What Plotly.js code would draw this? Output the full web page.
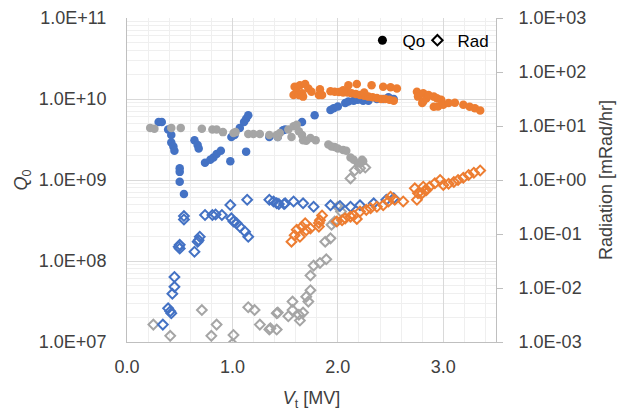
<!DOCTYPE html>
<html>
<head>
<meta charset="utf-8">
<script src="https://cdn.plot.ly/plotly-3.0.1.min.js"></script>
<style>html,body{margin:0;padding:0;background:#fff;}#chart{width:627px;height:411px;}</style>
</head>
<body>
<div id="chart"></div>
<script>
// ---- Data ----
// Q0 series (left axis), filled circles
const blueQx = [0.30,0.33,0.39,0.42,0.42,0.44,0.45,0.50,0.50,0.50,0.54,0.64,0.67,0.68,0.74,0.79,0.82,0.85,0.89,0.98,0.99,1.02,1.07,1.11,1.13,1.15,1.13,1.35,1.43,1.48,1.50,1.66,1.78,1.93,1.96,2.00,2.07,2.10,2.15,2.19,2.24,2.29,2.37,2.43,2.48,2.53];
const blueQy = [5.2e9,5.2e9,4.2e9,3.6e9,2.9e9,2.6e9,2.3e9,1.4e9,1.26e9,9.5e8,6.7e8,3.1e9,2.7e9,2.45e9,1.63e9,1.78e9,1.9e9,2.1e9,2.3e9,1.7e9,3.4e9,3.6e9,4.4e9,5.2e9,5.7e9,6.3e9,2.24e9,3.4e9,3.4e9,4.1e9,4.2e9,5.2e9,6.3e9,7.3e9,7.7e9,8.1e9,8.9e9,9.3e9,9.5e9,9.8e9,9.5e9,9.5e9,1.0e10,1.0e10,1.05e10,1.0e10];

const grayQx = [0.22,0.26,0.42,0.51,0.71,0.81,0.85,0.91,1.01,1.03,1.15,1.20,1.26,1.35,1.43,1.42,1.45,1.53,1.58,1.61,1.56,1.63,1.66,1.67,1.70,1.74,1.79,1.91,1.94,1.97,2.00,2.05,2.08,2.12,2.15,2.19,2.24,2.23];
const grayQy = [4.4e9,4.3e9,4.4e9,4.4e9,4.3e9,4.2e9,4.2e9,3.9e9,3.8e9,3.9e9,3.7e9,3.7e9,3.7e9,3.6e9,3.4e9,3.6e9,3.8e9,4.2e9,4.6e9,4.8e9,3.4e9,4.0e9,3.6e9,3.1e9,3.05e9,3.3e9,3.1e9,2.75e9,2.6e9,2.55e9,2.45e9,2.35e9,2.3e9,1.9e9,1.78e9,1.6e9,1.7e9,1.78e9];

const orangeQx = [1.58,1.59,1.61,1.63,1.64,1.66,1.67,1.69,1.72,1.75,1.82,1.83,1.85,
  1.93,1.97,2.01,2.05,2.09,2.13,2.17,2.21,2.25,2.29,2.33,2.37,2.41,2.45,2.49,2.53,
  2.10,2.18,2.32,2.43,2.50,2.56,2.05,2.25,
  2.75,2.76,2.80,2.81,2.81,2.84,2.86,2.91,2.94,2.91,2.95,2.98,3.00,3.05,3.11,3.19,3.25,3.30,3.35];
const orangeQy = [1.12e10,1.42e10,1.23e10,1.12e10,1.48e10,1.18e10,1.07e10,1.53e10,1.35e10,1.23e10,1.12e10,1.32e10,1.12e10,
  1.25e10,1.23e10,1.22e10,1.20e10,1.20e10,1.18e10,1.15e10,1.12e10,1.10e10,1.07e10,1.05e10,1.03e10,1.0e10,1.0e10,9.8e9,9.5e9,
  1.48e10,1.53e10,1.48e10,1.42e10,1.40e10,1.35e10,1.28e10,1.20e10,
  1.23e10,1.07e10,8.9e9,1.18e10,9.3e9,1.02e10,1.12e10,1.07e10,1.02e10,8.0e9,8.1e9,9.8e9,8.5e9,8.9e9,9.0e9,8.5e9,8.0e9,7.7e9,7.2e9];

// Radiation series (right axis), open diamonds
const blueRx = [0.34,0.39,0.41,0.42,0.43,0.45,0.45,0.49,0.50,0.50,0.54,0.54,0.64,0.67,0.68,0.69,0.74,0.81,0.84,0.90,0.98,0.99,1.01,1.04,1.07,1.12,1.15,1.14,1.35,1.39,1.42,1.44,1.49,1.50,1.58,1.67,1.77,1.93,2.02,2.12,2.21,2.34,2.46,2.53];
const blueRy = [0.0021,0.0042,0.0037,0.0034,0.0078,0.0105,0.016,0.058,0.063,0.054,0.215,0.186,0.047,0.072,0.077,0.089,0.225,0.225,0.23,0.225,0.344,0.195,0.17,0.158,0.136,0.11,0.089,0.43,0.43,0.40,0.37,0.36,0.36,0.37,0.40,0.37,0.32,0.34,0.33,0.32,0.34,0.37,0.43,0.46];

const grayRx = [0.25,0.41,0.71,0.80,0.85,1.00,1.01,1.15,1.21,1.26,1.35,1.36,1.42,1.42,1.43,1.53,1.57,1.57,1.63,1.64,1.67,1.72,1.70,1.74,1.74,1.77,1.83,1.89,1.88,1.93,1.94,1.97,2.00,2.03,2.12,2.16,2.21,2.26];
const grayRy = [0.0021,0.0013,0.0039,0.0013,0.0021,0.00093,0.00135,0.0044,0.0039,0.0021,0.0017,0.0018,0.0017,0.0034,0.0035,0.0030,0.0039,0.0056,0.0032,0.0025,0.0035,0.0056,0.0069,0.0091,0.017,0.026,0.029,0.034,0.072,0.083,0.148,0.17,0.32,0.26,1.07,1.5,1.65,1.7];

const orangeRx = [1.56,1.59,1.64,1.61,1.66,1.69,1.70,1.74,1.82,1.83,1.85,1.82,1.99,2.04,2.07,2.12,2.15,2.18,2.21,2.27,2.31,2.37,2.43,2.48,2.50,2.54,2.62,2.73,2.76,2.75,2.80,2.81,2.83,2.84,2.87,2.92,2.97,3.00,3.05,3.10,3.14,3.19,3.24,3.29,3.35];
const orangeRy = [0.072,0.095,0.089,0.12,0.136,0.158,0.117,0.127,0.137,0.18,0.22,0.16,0.17,0.18,0.195,0.21,0.22,0.19,0.26,0.28,0.30,0.32,0.34,0.40,0.49,0.43,0.40,0.70,0.57,0.43,0.57,0.75,0.65,0.65,0.75,0.87,1.0,0.81,0.85,0.92,1.0,1.1,1.24,1.36,1.5];

// Axis tick labels
const xTickVals = [0, 1, 2, 3];
const xTickLabels = ['0.0', '1.0', '2.0', '3.0'];
const qTickVals = [1e7, 1e8, 1e9, 1e10, 1e11];
const qTickLabels = ['1.0E+07', '1.0E+08', '1.0E+09', '1.0E+10', '1.0E+11'];
const rTickVals = [1e-3, 1e-2, 1e-1, 1e0, 1e1, 1e2, 1e3];
const rTickLabels = ['1.0E-03', '1.0E-02', '1.0E-01', '1.0E+00', '1.0E+01', '1.0E+02', '1.0E+03'];
const legendNames = ['Qo', 'Rad'];

// ---- Styles ----
const BLUE = '#4472C4', ORANGE = '#ED7D31', GRAY = '#A5A5A5';
const FONT = 'Liberation Sans, Arial, sans-serif';
const TXT = '#404040';

const minorQ = [];
for (let e = 7; e < 11; e++) for (let d = 2; d <= 9; d++) minorQ.push(d * Math.pow(10, e));

function circles(x, y, c) {
  return {x: x, y: y, type: 'scatter', mode: 'markers', yaxis: 'y', showlegend: false, hoverinfo: 'skip',
    marker: {symbol: 'circle', size: 8.5, color: c, line: {width: 0}}};
}
function diamonds(x, y, c) {
  return {x: x, y: y, type: 'scatter', mode: 'markers', yaxis: 'y2', showlegend: false, hoverinfo: 'skip',
    marker: {symbol: 'diamond-open', size: 7.5, color: c, line: {width: 2, color: c}}};
}

const traces = [
  circles(blueQx, blueQy, BLUE),
  circles(orangeQx, orangeQy, ORANGE),
  circles(grayQx, grayQy, GRAY),
  diamonds(grayRx, grayRy, GRAY),
  diamonds(blueRx, blueRy, BLUE),
  diamonds(orangeRx, orangeRy, ORANGE),
  {x: [null], y: [null], type: 'scatter', mode: 'markers', name: legendNames[0], yaxis: 'y', legend: 'legend',
    marker: {symbol: 'circle', size: 9, color: '#000'}},
  {x: [null], y: [null], type: 'scatter', mode: 'markers', name: legendNames[1], yaxis: 'y', legend: 'legend2',
    marker: {symbol: 'diamond-open', size: 8, color: '#000', line: {width: 2, color: '#000'}}}
];

const legendBase = {orientation: 'h', y: 0.93, xanchor: 'left', yanchor: 'middle',
  bgcolor: 'rgba(0,0,0,0)', font: {size: 17, color: '#000'}, itemwidth: 30};

const layout = {
  width: 627, height: 411,
  margin: {l: 127, r: 131, t: 18, b: 69, pad: 0},
  paper_bgcolor: '#ffffff', plot_bgcolor: '#ffffff',
  font: {family: FONT, size: 18, color: TXT},
  showlegend: true,
  legend: Object.assign({}, legendBase, {x: 0.638}),
  legend2: Object.assign({}, legendBase, {x: 0.787}),
  xaxis: {
    range: [0, 3.5], tickmode: 'array', tickvals: xTickVals, ticktext: xTickLabels,
    showgrid: true, gridcolor: '#D9D9D9', gridwidth: 1, zeroline: false,
    showline: true, linecolor: '#BFBFBF', linewidth: 1, ticks: '', ticklabelstandoff: 8,
    minor: {tick0: 0, dtick: 0.2, showgrid: true, gridcolor: '#EFEFEF', gridwidth: 1},
    title: {text: '<i>V</i><sub>t</sub> [MV]', font: {size: 18, color: TXT}, standoff: 17},
    automargin: false
  },
  yaxis: {
    type: 'log', range: [7, 11], tickmode: 'array', tickvals: qTickVals, ticktext: qTickLabels,
    showgrid: true, gridcolor: '#D9D9D9', gridwidth: 1, zeroline: false,
    showline: true, linecolor: '#BFBFBF', linewidth: 1, ticks: '', ticklabelstandoff: 16,
    minor: {tickmode: 'array', tickvals: minorQ, showgrid: true, gridcolor: '#EFEFEF', gridwidth: 1},
    title: {text: '<i>Q</i><sub>0</sub>', font: {size: 18, color: TXT}, standoff: 6},
    automargin: false
  },
  yaxis2: {
    type: 'log', range: [-3, 3], overlaying: 'y', side: 'right', tickmode: 'array',
    tickvals: rTickVals, ticktext: rTickLabels, showgrid: false, zeroline: false,
    showline: true, linecolor: '#BFBFBF', linewidth: 1, ticks: 'outside', ticklen: 6, tickcolor: '#BFBFBF',
    ticklabelstandoff: 12,
    title: {text: 'Radiation [mRad/hr]', font: {size: 18, color: TXT}, standoff: 14},
    automargin: false
  }
};

Plotly.newPlot('chart', traces, layout, {staticPlot: true, displayModeBar: false});
</script>
</body>
</html>
